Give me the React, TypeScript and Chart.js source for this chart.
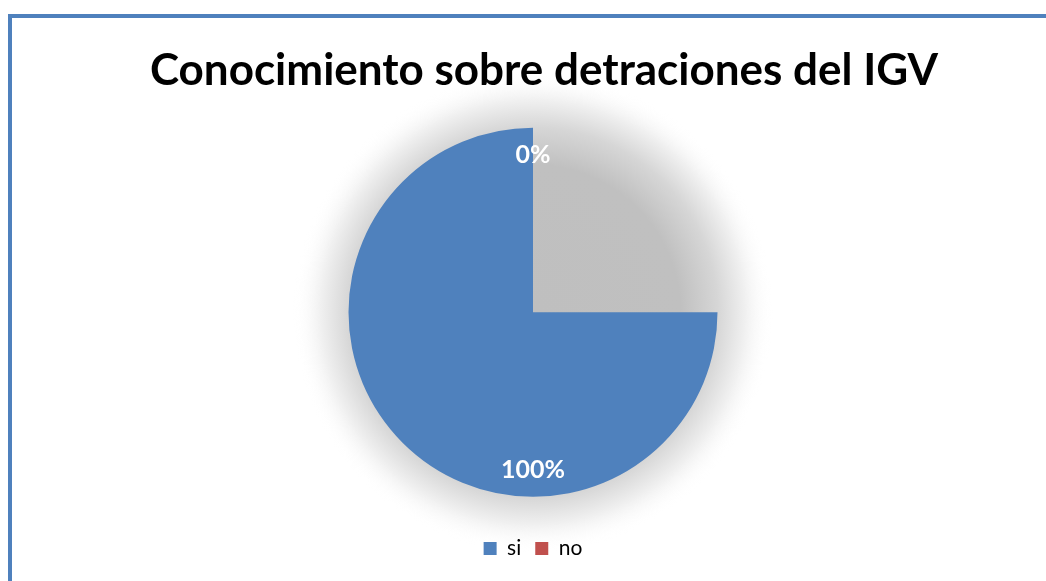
import React, { useEffect, useRef } from "react";
import { Chart, registerables } from "chart.js";

Chart.register(...registerables);

const categories = ["si", "no"];
const values = [100, 0];
const percentLabels = ["100%", "0%"];
const sliceColors = ["#4F81BD", "#C0504D"];
const titleText = "Conocimiento sobre detraciones del IGV";

const FONT = "Lato";

const glowPlugin = {
  id: "glow",
  beforeDraw(chart: any) {
    const arc = chart.getDatasetMeta(0).data[0];
    if (!arc) return;
    const { x, y, outerRadius } = arc.getProps(["x", "y", "outerRadius"], true);
    const ctx = chart.ctx;
    const R = outerRadius * 1.3;
    const g = ctx.createRadialGradient(x, y, 0, x, y, R);
    g.addColorStop(0, "rgb(191,191,191)");
    g.addColorStop(0.615, "rgb(192,192,192)");
    g.addColorStop(0.77, "rgb(214,214,214)");
    g.addColorStop(0.885, "rgb(240,240,240)");
    g.addColorStop(1, "rgba(255,255,255,0)");
    ctx.save();
    ctx.fillStyle = g;
    ctx.beginPath();
    ctx.arc(x, y, R, 0, Math.PI * 2);
    ctx.fill();
    ctx.restore();
  },
};

const pctLabelPlugin = {
  id: "pctLabels",
  afterDatasetsDraw(chart: any) {
    const arc = chart.getDatasetMeta(0).data[0];
    if (!arc) return;
    const { x, y, outerRadius } = arc.getProps(["x", "y", "outerRadius"], true);
    const data: number[] = chart.data.datasets[0].data;
    const total = data.reduce((a, b) => a + b, 0);
    const ctx = chart.ctx;
    ctx.save();
    ctx.fillStyle = "#ffffff";
    ctx.font = `bold 25px ${FONT}`;
    ctx.textAlign = "center";
    ctx.textBaseline = "middle";
    let cum = 0;
    data.forEach((v, i) => {
      const mid = (cum + v / 2) / total;
      cum += v;
      const ang = -Math.PI / 2 + mid * Math.PI * 2;
      const rr = outerRadius * 0.855;
      ctx.fillText(percentLabels[i], x + Math.cos(ang) * rr, y + Math.sin(ang) * rr);
    });
    ctx.restore();
  },
};

export default function App() {
  const ref = useRef<HTMLCanvasElement | null>(null);
  useEffect(() => {
    if (!ref.current) return;
    const chart = new Chart(ref.current, {
      type: "pie",
      data: {
        labels: categories,
        datasets: [
          {
            data: values,
            backgroundColor: sliceColors,
            borderWidth: 0,
          },
        ],
      },
      options: {
        responsive: false,
        animation: false,
        rotation: 90,
        circumference: 270,
        layout: { padding: { left: 20, right: 0, top: 0, bottom: 12 } },
        plugins: {
          title: {
            display: true,
            text: "\u2002" + titleText,
            color: "#000000",
            font: { family: FONT, size: 44, weight: "bold" },
            padding: { top: 44, bottom: 31 },
          },
          legend: {
            position: "bottom",
            title: {
              display: true,
              text: "",
              font: { family: FONT, size: 11 },
              padding: 7,
            },
            labels: {
              boxWidth: 13,
              boxHeight: 13,
              color: "#000000",
              font: { family: FONT, size: 21 },
              padding: 14,
            },
          },
          tooltip: { enabled: false },
        },
      },
      plugins: [glowPlugin, pctLabelPlugin],
    } as any);
    return () => chart.destroy();
  }, []);

  return (
    <div style={{ position: "absolute", left: 0, top: 0, width: 1046, height: 581, overflow: "hidden", background: "#ffffff" }}>
      <div
        style={{
          position: "absolute",
          left: 8,
          top: 14,
          width: 1100,
          height: 700,
          border: "4px solid #4F81BD",
          boxSizing: "border-box",
        }}
      />
      <canvas
        ref={ref}
        width={1046}
        height={581}
        style={{ position: "absolute", left: 0, top: 0, width: 1046, height: 581 }}
      />
    </div>
  );
}
